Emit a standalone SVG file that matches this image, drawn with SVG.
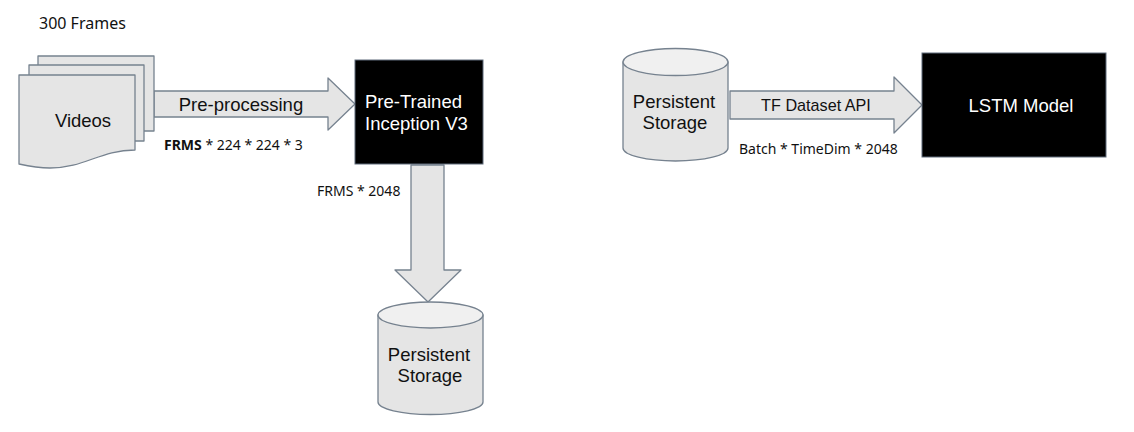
<svg xmlns="http://www.w3.org/2000/svg" width="1134" height="432" viewBox="0 0 1134 432">
<style>
.s{fill:#e5e5e5;stroke:#76828f;stroke-width:1.3;stroke-linejoin:round}
.t{fill:#f0f0f0;stroke:#76828f;stroke-width:1.3}
.k{fill:#000;stroke:#5f6b7a;stroke-width:1}
.a{font-family:"Liberation Sans",Arial,sans-serif;font-size:18.500px;text-anchor:middle;fill:#111}
.w{fill:#fff}
.n{font-family:"Noto Sans","Open Sans",sans-serif;font-size:14px;fill:#111}
</style>
<rect width="1134" height="432" fill="#fff"/>
<g id="connectors">
<path class="s" d="M154 91H328V78L355 104L328 130V117H154Z"/>
<path class="s" d="M411 165H444V270H461L428 302L395 270H411Z"/>
<path class="s" d="M730 91H894V77L922 105L894 133V119H730Z"/>
</g>
<g id="videos">
<rect class="s" x="38" y="56" width="116" height="75"/>
<rect class="s" x="29" y="65" width="115" height="76"/>
<path class="s" d="M19 75H135V150C100 150 85 168 50 168C38 168 28 166 19 164Z"/>
<text class="a" x="83" y="127">Videos</text>
</g>
<g id="frames-label"><text class="n" x="39" y="29" style="font-size:16px">300 Frames</text></g>
<g id="preprocessing-label"><text class="a" x="241" y="111">Pre-processing</text></g>
<g id="frms-label"><text class="n" x="164" y="150"><tspan font-weight="700">FRMS</tspan> * 224 * 224 * 3</text></g>
<g id="inception">
<rect class="k" x="355" y="60" width="128" height="104"/>
<text class="a w" x="365" y="108" style="text-anchor:start">Pre-Trained</text>
<text class="a w" x="365" y="130" style="text-anchor:start">Inception V3</text>
</g>
<g id="frms2-label"><text class="n" x="317" y="196">FRMS * 2048</text></g>
<g id="storage-1">
<path class="s" d="M378 315V402A52.500 12.500 0 0 0 483 402V315Z"/>
<ellipse class="t" cx="430.500" cy="315" rx="52.500" ry="13"/>
<text class="a" x="429" y="361">Persistent</text>
<text class="a" x="430" y="382">Storage</text>
</g>
<g id="storage-2">
<path class="s" d="M623 62V148A52.500 13 0 0 0 728 148V62Z"/>
<ellipse class="t" cx="675.500" cy="62" rx="52.500" ry="13.500"/>
<text class="a" x="674" y="108">Persistent</text>
<text class="a" x="675" y="129">Storage</text>
</g>
<g id="tf-label"><text class="a" x="816" y="111" style="font-size:16.200px">TF Dataset API</text></g>
<g id="batch-label"><text class="n" x="739" y="154">Batch * TimeDim * 2048</text></g>
<g id="lstm">
<rect class="k" x="922" y="53" width="184" height="104"/>
<text class="a w" x="1021" y="112">LSTM Model</text>
</g>
</svg>
